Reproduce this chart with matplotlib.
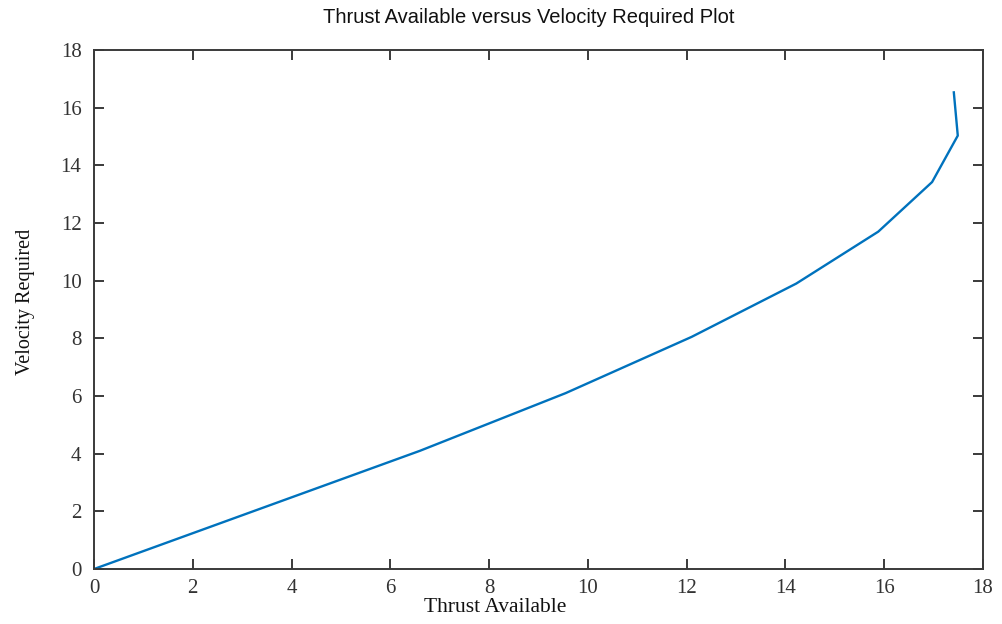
import matplotlib
matplotlib.use("Agg")
import matplotlib.pyplot as plt

thrust_available = [0, 3.3, 6.6, 9.55, 12.1, 14.22, 15.88, 16.97, 17.49, 17.41]
velocity_required = [0, 2.05, 4.1, 6.1, 8.05, 9.9, 11.7, 13.42, 15.03, 16.53]
ticks = list(range(0, 19, 2))

fig = plt.figure(figsize=(10.02, 6.24), dpi=100)
ax = fig.add_axes([0.0938, 0.0881, 0.8872, 0.8318])

ax.plot(thrust_available, velocity_required, color="#0072BD", lw=1.7)

ax.set_xlim(0, 18)
ax.set_ylim(0, 18)
ax.set_xticks(ticks)
ax.set_yticks(ticks)

dark = "#3a3a3a"
for sp in ax.spines.values():
    sp.set_color(dark)
    sp.set_linewidth(1.4)
ax.tick_params(direction="in", length=7, width=1.4, color=dark,
               top=True, right=True, labelsize=15, labelcolor="#333333")
ax.tick_params(axis="x", pad=7)
ax.tick_params(axis="y", pad=9)
for lab in ax.get_xticklabels() + ax.get_yticklabels():
    lab.set_fontfamily(["Liberation Serif", "DejaVu Serif"])

ax.set_xlabel("Thrust Available", fontsize=15.5, family=["Liberation Serif", "DejaVu Serif"],
              color="#111111")
ax.xaxis.set_label_coords(0.451, -0.075)
ax.xaxis.label.set_va("center")
ax.set_ylabel("Velocity Required", fontsize=14.5, family=["Liberation Serif", "DejaVu Serif"],
              color="#111111")
ax.yaxis.set_label_coords(-0.077, 0.514)
ax.yaxis.label.set_va("center")
fig.text(0.528, 0.972, "Thrust Available versus Velocity Required Plot", ha="center", va="center",
         fontsize=14.5, family=["Liberation Sans Narrow", "Liberation Sans", "DejaVu Sans"],
         color="#111111", fontstretch="condensed")

fig.savefig("out.png", dpi=100)
